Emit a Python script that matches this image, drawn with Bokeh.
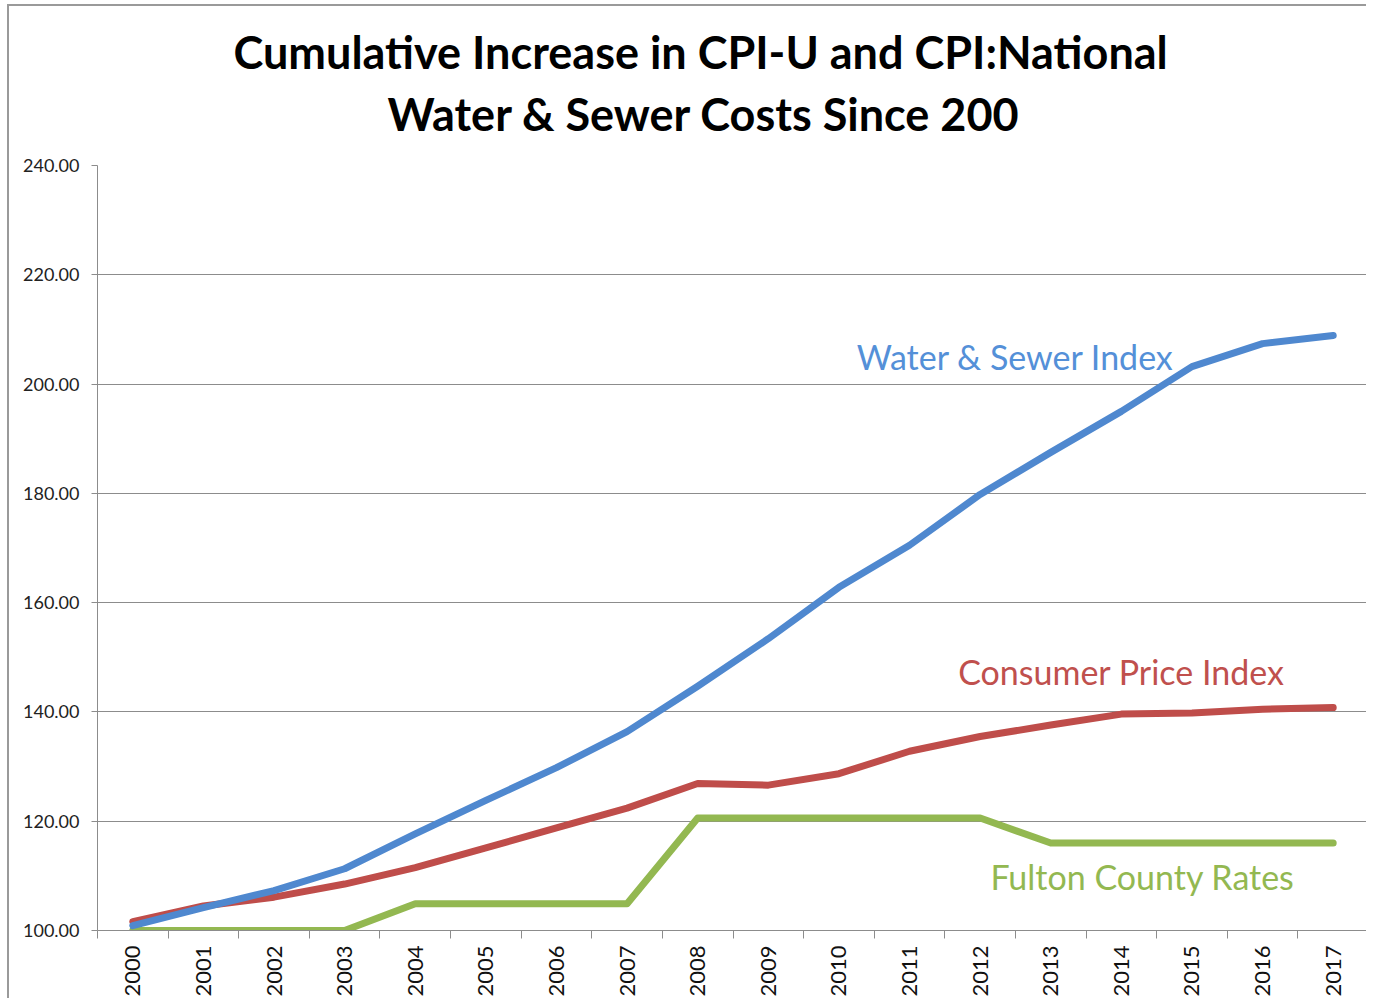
import math
from bokeh.plotting import figure
from bokeh.models import FixedTicker, NumeralTickFormatter, Range1d, ColumnDataSource, Title
from bokeh.core.properties import value
from bokeh.embed import file_html
from bokeh.resources import INLINE

# ---- data ----
years = [2000, 2001, 2002, 2003, 2004, 2005, 2006, 2007, 2008,
         2009, 2010, 2011, 2012, 2013, 2014, 2015, 2016, 2017]
water_sewer = [100.9, 104.2, 107.3, 111.3, 117.7, 123.8, 129.8, 136.4, 144.7,
               153.4, 162.8, 170.5, 179.8, 187.5, 195.0, 203.2, 207.4, 208.9]
cpi = [101.6, 104.5, 106.1, 108.5, 111.5, 115.1, 118.8, 122.4, 126.9,
       126.6, 128.7, 132.8, 135.5, 137.6, 139.6, 139.8, 140.5, 140.8]
fulton = [100.0, 100.0, 100.0, 100.0, 104.9, 104.9, 104.9, 104.9, 120.6,
          120.6, 120.6, 120.6, 120.6, 116.0, 116.0, 116.0, 116.0, 116.0]
y_ticks = [100, 120, 140, 160, 180, 200, 220, 240]
series_labels = ["Water & Sewer Index", "Consumer Price Index", "Fulton County Rates"]
title_lines = ["Cumulative Increase in CPI-U and CPI:National",
               "Water & Sewer Costs Since 200"]

# ---- styling / positions ----
blue, red, green = "#4f88cf", "#bf4d4a", "#93b851"
label_colors = ["#5490d8", "#c0504d", "#93b851"]
label_x = [2012.5, 2014.0, 2014.3]
label_y = [205.0, 147.4, 109.9]

p = figure(width=1359, height=994, output_backend="svg", toolbar_location=None,
           x_range=Range1d(years[0] - 0.5, years[-1] + 0.5),
           y_range=Range1d(y_ticks[0], y_ticks[-1]),
           min_border_left=88, min_border_right=0, min_border_top=159,
           min_border_bottom=70)
p.styles = {"border-left": "2px solid #9a9a9a", "border-top": "2px solid #9a9a9a",
            "margin-left": "7px", "margin-top": "4px"}

title_style = dict(align="left", text_font="Lato", text_font_size="45px",
                   text_font_style="bold", text_color="#000000")
# spacer between the title block and the plot frame (nearest the frame)
p.add_layout(Title(text=" ", text_font_size="1px", standoff=17), "above")
p.add_layout(Title(text=title_lines[1], offset=290, **title_style), "above")
p.title = Title(text=title_lines[0], offset=136, standoff=2, **title_style)

p.outline_line_color = None
p.background_fill_color = "white"
p.border_fill_color = "white"

# x axis: labels at years, ticks between categories
p.xaxis.ticker = FixedTicker(ticks=years,
                             minor_ticks=[y - 0.5 for y in years] + [years[-1] + 0.5])
p.xaxis.major_tick_line_color = None
p.xaxis.minor_tick_line_color = "#8c8c8c"
p.xaxis.minor_tick_out = 8
p.xaxis.minor_tick_in = 0
p.xaxis.axis_line_color = "#8c8c8c"
p.xaxis.major_label_orientation = math.pi / 2
p.xaxis.major_label_text_font = "Lato"
p.xaxis.major_label_text_font_size = "22px"
p.xaxis.major_label_text_color = "#111111"
p.xaxis.major_label_standoff = 7
p.xgrid.grid_line_color = None

# y axis
p.yaxis.ticker = FixedTicker(ticks=y_ticks)
p.yaxis.formatter = NumeralTickFormatter(format="0.00")
p.yaxis.axis_line_color = "#8c8c8c"
p.yaxis.major_tick_line_color = "#8c8c8c"
p.yaxis.major_tick_out = 6
p.yaxis.major_tick_in = 0
p.yaxis.minor_tick_line_color = None
p.yaxis.major_label_text_font = "Lato"
p.yaxis.major_label_text_font_size = "18px"
p.yaxis.major_label_text_color = "#222222"
p.yaxis.major_label_standoff = 12
p.ygrid.grid_line_color = "#8c8c8c"
p.ygrid.grid_line_width = 1

for vals, col in [(fulton, green), (cpi, red), (water_sewer, blue)]:
    p.line(years, vals, line_color=col, line_width=7, line_cap="round", line_join="round")

src = ColumnDataSource(dict(x=label_x, y=label_y, text=series_labels, color=label_colors))
p.text(x="x", y="y", text="text", text_color="color", source=src,
       text_font=value("Lato"), text_font_size="34px",
       text_align="center", text_baseline="middle")

open("out.html", "w").write(file_html(p, INLINE))
